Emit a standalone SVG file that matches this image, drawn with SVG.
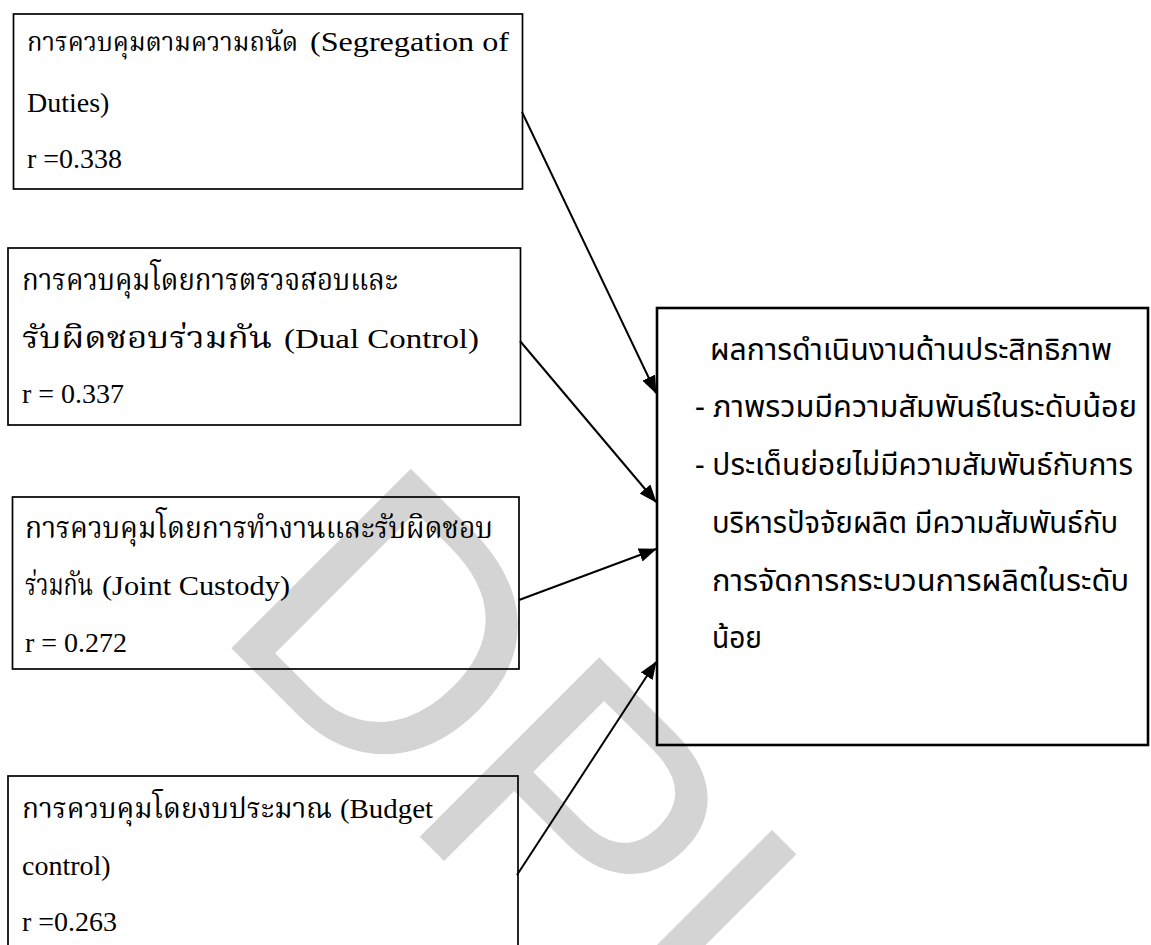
<svg xmlns="http://www.w3.org/2000/svg" width="1151" height="945" viewBox="0 0 1151 945">
<style>
.box{fill:none;stroke:#000;stroke-width:1.7}
.rbox{fill:none;stroke:#000;stroke-width:2.6}
.t{font-family:'Liberation Serif','Noto Serif Thai','Noto Sans Thai',serif;font-size:28px;fill:#000}
.th{font-family:'Noto Serif Thai','Noto Sans Thai','Liberation Serif',serif;font-size:31px}
.r{font-family:'Noto Sans Thai','Liberation Sans',sans-serif;font-size:31px;fill:#000}
.wm{font-family:'Liberation Sans',Arial,sans-serif;font-size:369px;fill:#d4d4d4}
.c{stroke:#000;stroke-width:2;fill:none;marker-end:url(#ah)}
</style>
<defs>
<marker id="ah" markerUnits="userSpaceOnUse" markerWidth="18" markerHeight="14" refX="17" refY="7" orient="auto"><path d="M0,0 L18,7 L0,14 Z" fill="#000"/></marker>
</defs>
<rect width="1151" height="945" fill="#fff"/>
<text id="watermark" class="wm" transform="translate(209.9,626.9) rotate(45)">DPU</text>
<g id="n1">
<rect class="box" x="13.5" y="14" width="509" height="175"/>
<text class="t" y="51"><tspan class="th" x="27" style="font-size:27px" textLength="271" lengthAdjust="spacingAndGlyphs">การควบคุมตามความถนัด</tspan><tspan x="310" textLength="199" lengthAdjust="spacingAndGlyphs">(Segregation of</tspan></text>
<text class="t" x="27" y="112">Duties)</text>
<text class="t" x="27" y="168">r =0.338</text>
</g>
<g id="n2">
<rect class="box" x="8" y="248" width="512.5" height="177"/>
<text class="t" y="290"><tspan class="th" x="22" textLength="376" lengthAdjust="spacingAndGlyphs">การควบคุมโดยการตรวจสอบและ</tspan></text>
<text class="t" y="348"><tspan class="th" x="22" textLength="250" lengthAdjust="spacingAndGlyphs">รับผิดชอบร่วมกัน</tspan><tspan x="284" textLength="195" lengthAdjust="spacingAndGlyphs">(Dual Control)</tspan></text>
<text class="t" x="22" y="403">r = 0.337</text>
</g>
<g id="n3">
<rect class="box" x="12.5" y="497" width="506.5" height="172"/>
<text class="t" y="538"><tspan class="th" x="25" textLength="468" lengthAdjust="spacingAndGlyphs">การควบคุมโดยการทำงานและรับผิดชอบ</tspan></text>
<text class="t" y="595"><tspan class="th" x="25" textLength="68" lengthAdjust="spacingAndGlyphs">ร่วมกัน</tspan><tspan x="102" textLength="188" lengthAdjust="spacingAndGlyphs">(Joint Custody)</tspan></text>
<text class="t" x="25" y="652">r = 0.272</text>
</g>
<g id="n4">
<rect class="box" x="8" y="776" width="510" height="190"/>
<text class="t" y="818"><tspan class="th" x="22" style="font-size:29px" textLength="310" lengthAdjust="spacingAndGlyphs">การควบคุมโดยงบประมาณ</tspan><tspan x="340" textLength="93" lengthAdjust="spacingAndGlyphs">(Budget</tspan></text>
<text class="t" x="22" y="875">control)</text>
<text class="t" x="22" y="931">r =0.263</text>
</g>
<g id="result">
<rect class="rbox" x="657" y="308" width="491" height="437"/>
<text class="r" x="710" y="360" textLength="402" lengthAdjust="spacingAndGlyphs">ผลการดำเนินงานด้านประสิทธิภาพ</text>
<text class="r" x="695" y="417" textLength="442" lengthAdjust="spacingAndGlyphs">- ภาพรวมมีความสัมพันธ์ในระดับน้อย</text>
<text class="r" x="695" y="475" textLength="438" lengthAdjust="spacingAndGlyphs">- ประเด็นย่อยไม่มีความสัมพันธ์กับการ</text>
<text class="r" x="712" y="533" textLength="406" lengthAdjust="spacingAndGlyphs">บริหารปัจจัยผลิต มีความสัมพันธ์กับ</text>
<text class="r" x="712" y="591" textLength="417" lengthAdjust="spacingAndGlyphs">การจัดการกระบวนการผลิตในระดับ</text>
<text class="r" x="712" y="648" textLength="50" lengthAdjust="spacingAndGlyphs">น้อย</text>
</g>
<g id="connectors">
<path class="c" d="M522,112 L656,393"/>
<path class="c" d="M520,341 L656,502"/>
<path class="c" d="M519,600 L656,549"/>
<path class="c" d="M517,875 L656,662"/>
</g>
</svg>
